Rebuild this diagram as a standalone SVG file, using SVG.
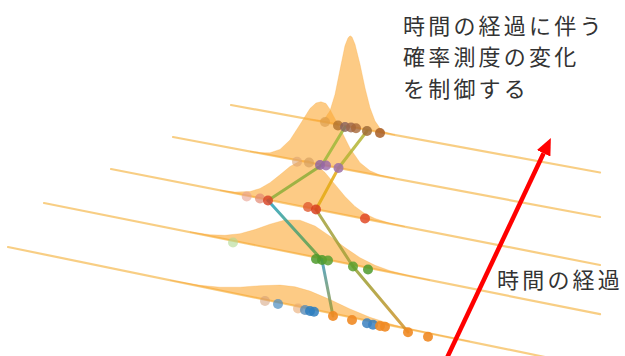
<svg xmlns="http://www.w3.org/2000/svg" width="625" height="356" viewBox="0 0 625 356">
<style>
.ln{stroke:#F5BB55;stroke-width:2.2;stroke-opacity:0.72;fill:none;stroke-linecap:round}
.dist{fill:#FBA933;fill-opacity:0.6;stroke:#F7A93A;stroke-opacity:0.35;stroke-width:0.8}
.tr{fill:none;stroke-width:3;stroke-opacity:0.85;stroke-linecap:round}
.pt{stroke:none}
.lbl{font-family:"Noto Sans CJK JP","Noto Sans CJK SC",sans-serif;font-size:22px;fill:#333333;letter-spacing:3.2px}
</style>
<defs>
<marker id="ah" markerUnits="userSpaceOnUse" markerWidth="17" markerHeight="15" refX="0" refY="7.5" orient="auto">
<path d="M0,0 L17,7.5 L0,15 z" fill="#FF0000"/>
</marker>
<linearGradient id="gA3" gradientUnits="userSpaceOnUse" x1="268" y1="200" x2="322" y2="260"><stop offset="0" stop-color="#22A0C4"/><stop offset="1" stop-color="#6EA02E"/></linearGradient>
<linearGradient id="gA4" gradientUnits="userSpaceOnUse" x1="322" y1="260" x2="333" y2="316"><stop offset="0" stop-color="#3A98C0"/><stop offset="1" stop-color="#A09A30"/></linearGradient>
<linearGradient id="gB4" gradientUnits="userSpaceOnUse" x1="353" y1="266" x2="408" y2="332"><stop offset="0" stop-color="#8FA032"/><stop offset="1" stop-color="#D6922A"/></linearGradient>
</defs>

<g id="time-lines">
<line class="ln" x1="231" y1="105" x2="600" y2="172.5"/>
<line class="ln" x1="173" y1="137" x2="600" y2="217"/>
<line class="ln" x1="111" y1="169" x2="600" y2="265"/>
<line class="ln" x1="44" y1="203" x2="600" y2="314.2"/>
<line class="ln" x1="8" y1="247" x2="545" y2="357"/>
</g>

<g id="distributions">
<path id="d5" class="dist" d="M170,280.2 L200,285.3 L220,287.2 L240,287.2 L260,285.7 L280,285.1 L295,286.8 L310,291.1 L330,299.6 L350,309 L370,317.3 L390,323.8 L410,328.9 L440,335.3 L470,341.5 L440,335.6 L410,329.4 L370,321.2 L330,313 L295,305.8 L260,298.7 L220,290.5 L170,280.2 z"/>
<path id="d4" class="dist" d="M190,231.9 L210,234.7 L225,235.3 L240,233.7 L255,229.6 L270,224.2 L285,220 L300,220.2 L315,226 L330,236.2 L345,247.6 L360,257.7 L375,265.3 L390,270.7 L410,275.9 L430,280.2 L410,276.2 L360,266.2 L300,254.2 L240,242.2 L190,232.2 z"/>
<path id="d3" class="dist" d="M220,190.2 L235,192.1 L250,191.5 L260,188.5 L270,182.7 L280,174.8 L290,166.5 L300,161.1 L308,160.6 L315,163.6 L325,172.5 L335,184.4 L345,196.5 L355,206.5 L365,213.7 L375,218.5 L390,223.2 L405,226.6 L390,223.7 L340,213.9 L280,202.1 L220,190.4 z"/>
<path id="d2" class="dist" d="M250,151.3 L260,152.7 L270,152.8 L280,149.4 L290,140 L300,124.5 L310,108.5 L316,103 L321,101.8 L326,103.5 L330,109.4 L340,128.2 L350,148.2 L360,162.7 L370,170.8 L380,175 L395,178.6 L380,175.8 L320,164.6 L250,151.4 z"/>
<path id="d1" class="dist" d="M310,119.4 L320,120.3 L325,118.2 L330,110.8 L335,94.4 L340,69.8 L345,45.6 L348,38 L350,35.8 L352,37 L355,44.3 L360,64.3 L365,87.9 L370,107.8 L375,121 L380,128.3 L385,131.9 L395,135 L385,133.2 L350,126.8 L310,119.5 z"/>
</g>

<g id="trajectories">
<line class="tr" x1="345" y1="127" x2="322" y2="165" stroke="#9DB83A"/>
<line class="tr" x1="322" y1="165" x2="268" y2="200.5" stroke="#8DAE38"/>
<line class="tr" x1="268" y1="200.5" x2="322" y2="260" stroke="url(#gA3)"/>
<line class="tr" x1="322" y1="260" x2="333" y2="316" stroke="url(#gA4)"/>
<line class="tr" x1="367" y1="131" x2="338.5" y2="168" stroke="#B4B432"/>
<line class="tr" x1="338.5" y1="168" x2="316" y2="209.5" stroke="#E3A912"/>
<line class="tr" x1="316" y1="209.5" x2="353" y2="266.5" stroke="#A2A038"/>
<line class="tr" x1="353" y1="266.5" x2="408" y2="332" stroke="url(#gB4)"/>
</g>

<g id="points">
<circle class="pt" cx="325" cy="122" r="5" fill="#D89A4A" fill-opacity="0.6"/>
<circle class="pt" cx="338" cy="125.5" r="5" fill="#B0702C" fill-opacity="0.8"/>
<circle class="pt" cx="345" cy="127" r="5" fill="#86605E" fill-opacity="0.8"/>
<circle class="pt" cx="351" cy="127.5" r="5" fill="#9A6448" fill-opacity="0.8"/>
<circle class="pt" cx="356" cy="128.3" r="5" fill="#A86838" fill-opacity="0.8"/>
<circle class="pt" cx="367" cy="131" r="5" fill="#A06C36" fill-opacity="0.85"/>
<circle class="pt" cx="380" cy="133" r="5" fill="#A85E26" fill-opacity="0.85"/>

<circle class="pt" cx="297" cy="161.7" r="5" fill="#DDA470" fill-opacity="0.6"/>
<circle class="pt" cx="309" cy="162.5" r="5" fill="#D6A060" fill-opacity="0.7"/>
<circle class="pt" cx="320" cy="165" r="5" fill="#8C60A0" fill-opacity="0.8"/>
<circle class="pt" cx="326" cy="165.5" r="5" fill="#9A68A8" fill-opacity="0.8"/>
<circle class="pt" cx="338.5" cy="168" r="5" fill="#9C70A8" fill-opacity="0.85"/>

<circle class="pt" cx="246.7" cy="196.5" r="5" fill="#E8A090" fill-opacity="0.6"/>
<circle class="pt" cx="260" cy="198.5" r="5" fill="#E28870" fill-opacity="0.7"/>
<circle class="pt" cx="268" cy="200.5" r="5" fill="#D8482A" fill-opacity="0.85"/>
<circle class="pt" cx="308" cy="207" r="5" fill="#E05A30" fill-opacity="0.8"/>
<circle class="pt" cx="316" cy="209.5" r="5" fill="#D84020" fill-opacity="0.85"/>
<circle class="pt" cx="365" cy="218.5" r="5" fill="#E04A28" fill-opacity="0.85"/>

<circle class="pt" cx="233" cy="242.5" r="5" fill="#B0D890" fill-opacity="0.6"/>
<circle class="pt" cx="316" cy="259" r="5" fill="#4E9A2A" fill-opacity="0.85"/>
<circle class="pt" cx="322" cy="260" r="5" fill="#4E9A2A" fill-opacity="0.85"/>
<circle class="pt" cx="328" cy="260.5" r="5" fill="#5AA030" fill-opacity="0.85"/>
<circle class="pt" cx="353" cy="266.5" r="5" fill="#5AA030" fill-opacity="0.85"/>
<circle class="pt" cx="368" cy="269.5" r="5" fill="#4E9A2A" fill-opacity="0.85"/>

<circle class="pt" cx="265" cy="301" r="5" fill="#D09870" fill-opacity="0.5"/>
<circle class="pt" cx="278" cy="304" r="5" fill="#4A8CC0" fill-opacity="0.7"/>
<circle class="pt" cx="298" cy="308.5" r="5" fill="#E8A870" fill-opacity="0.6"/>
<circle class="pt" cx="305" cy="310" r="5" fill="#5A8CB8" fill-opacity="0.8"/>
<circle class="pt" cx="310" cy="311" r="5" fill="#2E7EBE" fill-opacity="0.85"/>
<circle class="pt" cx="314" cy="311.7" r="5" fill="#2E7EBE" fill-opacity="0.85"/>
<circle class="pt" cx="333" cy="316" r="5" fill="#F08A24" fill-opacity="0.9"/>
<circle class="pt" cx="352" cy="320" r="5" fill="#F08A24" fill-opacity="0.9"/>
<circle class="pt" cx="367" cy="323.3" r="5" fill="#3A80C0" fill-opacity="0.85"/>
<circle class="pt" cx="373" cy="324.7" r="5" fill="#3A80C0" fill-opacity="0.85"/>
<circle class="pt" cx="380" cy="326" r="5" fill="#F08A24" fill-opacity="0.9"/>
<circle class="pt" cx="385" cy="326.7" r="5" fill="#F08A24" fill-opacity="0.9"/>
<circle class="pt" cx="408" cy="332.3" r="5" fill="#F08A24" fill-opacity="0.9"/>
<circle class="pt" cx="428" cy="336.7" r="5" fill="#F08A24" fill-opacity="0.9"/>
</g>

<g id="time-arrow">
<line x1="446" y1="360" x2="543.6" y2="153.3" stroke="#FF0000" stroke-width="4.5" marker-end="url(#ah)"/>
</g>

<g id="labels">
<text class="lbl" x="403" y="33.5">時間の経過に伴う</text>
<text class="lbl" x="403" y="65.2">確率測度の変化</text>
<text class="lbl" x="403" y="96.8">を制御する</text>
<text class="lbl" x="497" y="288">時間の経過</text>
</g>
</svg>
